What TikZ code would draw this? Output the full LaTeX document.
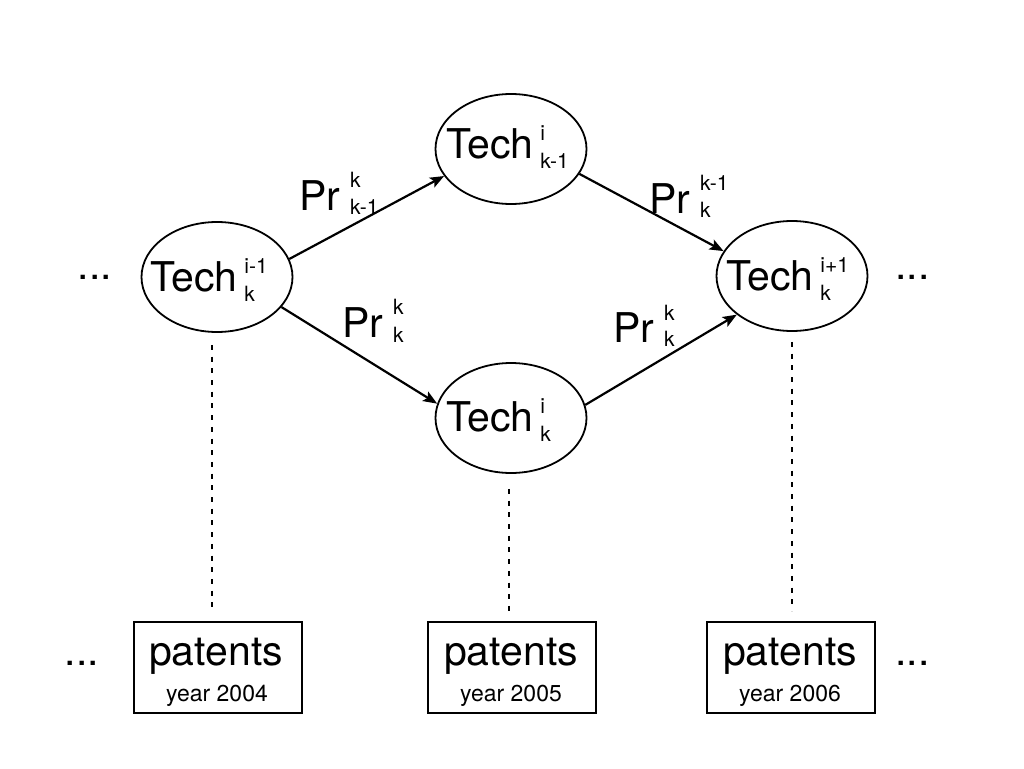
\documentclass[tikz,border=0pt]{standalone}
\usepackage{fontspec}
\setmainfont{TeX Gyre Heros}
\usetikzlibrary{arrows.meta,shapes.geometric}
% #1 gap, #2 sup, #3 sub, #4 raise, #5 lower
\newcommand\supsub[5]{\hspace{#1}{\fontsize{21}{21}\selectfont
  \sbox0{\raisebox{#4}{#2}}\sbox2{\raisebox{-#5}{#3}}%
  \rlap{\usebox0}\usebox2\ifdim\wd0>\wd2\hspace{\dimexpr\wd0-\wd2\relax}\fi}}
\begin{document}
\begin{tikzpicture}[x=1pt,y=-1pt,
  tech/.style={draw,ellipse,line width=1.8pt,minimum width=151pt,minimum height=110pt,inner sep=0pt},
  big/.style={font=\fontsize{41}{41}\selectfont,inner sep=0pt},
  small/.style={font=\fontsize{23}{23}\selectfont,inner sep=0pt},
  pbox/.style={draw,rectangle,line width=2pt,minimum width=168pt,minimum height=91pt,inner sep=0pt},
  arr/.style={line width=2.2pt,-{Stealth[length=14pt,width=11pt,inset=3pt]}},
  dotline/.style={line width=2.8pt,dash pattern=on 5pt off 6.7pt}]
\useasboundingbox (0,0) rectangle (1024,768);
% ellipses
\node[tech] (L) at (217,277) {};
\node[tech] (T) at (511,149) {};
\node[tech] (D) at (511,418) {};
\node[tech] (R) at (792,276) {};
% ellipse texts
\node[big,anchor=base west] (tL) at (150,291) {Tech\supsub{7pt}{i-1}{k}{18pt}{10pt}};
\node[big,anchor=base west] (tT) at (446,158) {Tech\supsub{7pt}{i}{k-1}{18pt}{10pt}};
\node[big,anchor=base west] (tD) at (446,431) {Tech\supsub{7pt}{i}{k}{18pt}{10pt}};
\node[big,anchor=base west] (tR) at (726,290) {Tech\supsub{7pt}{i+1}{k}{18pt}{10pt}};
% arrows
\draw[arr] (L.14) -- (T.202);
\draw[arr] (T.340) -- (R.160);
\draw[arr] (L.335) -- (D.169);
\draw[arr] (D.10) -- (R.215);
% probability labels
\node[big,anchor=base west] (p1) at (299,210) {Pr\supsub{10pt}{k}{k-1}{23pt}{4pt}};
\node[big,anchor=base west] (p2) at (649,213) {Pr\supsub{10pt}{k-1}{k}{23pt}{4pt}};
\node[big,anchor=base west] (p3) at (342,337) {Pr\supsub{10pt}{k}{k}{23pt}{5pt}};
\node[big,anchor=base west] (p4) at (613,342) {Pr\supsub{10pt}{k}{k}{22pt}{4pt}};
% boxes
\node[pbox] (B1) at (217.5,667.5) {};
\node[pbox] (B2) at (512,667.5) {};
\node[pbox] (B3) at (791,667.5) {};
\node[big,anchor=base] (pa1) at (216,665) {patents};
\node[big,anchor=base] (pa2) at (511,665) {patents};
\node[big,anchor=base] (pa3) at (790,665) {patents};
\node[small,anchor=base] (y1) at (217,701) {year 2004};
\node[small,anchor=base] (y2) at (511,701) {year 2005};
\node[small,anchor=base] (y3) at (790,701) {year 2006};
% dotted links
\draw[dotline] ([xshift=-5pt,yshift=-12pt]L.south) -- ([xshift=-5.5pt,yshift=10pt]B1.north);
\draw[dotline] ([xshift=-2pt,yshift=-15pt]D.south) -- ([xshift=-3pt,yshift=10pt]B2.north);
\draw[dotline] ([yshift=-10pt]R.south) -- ([xshift=1pt,yshift=10pt]B3.north);
% ellipsis marks
\node[big,anchor=base] (e1) at (95,279) {...};
\node[big,anchor=base] (e2) at (912.5,279) {...};
\node[big,anchor=base] (e3) at (82,665) {...};
\node[big,anchor=base] (e4) at (912.5,665) {...};
\end{tikzpicture}
\end{document}
